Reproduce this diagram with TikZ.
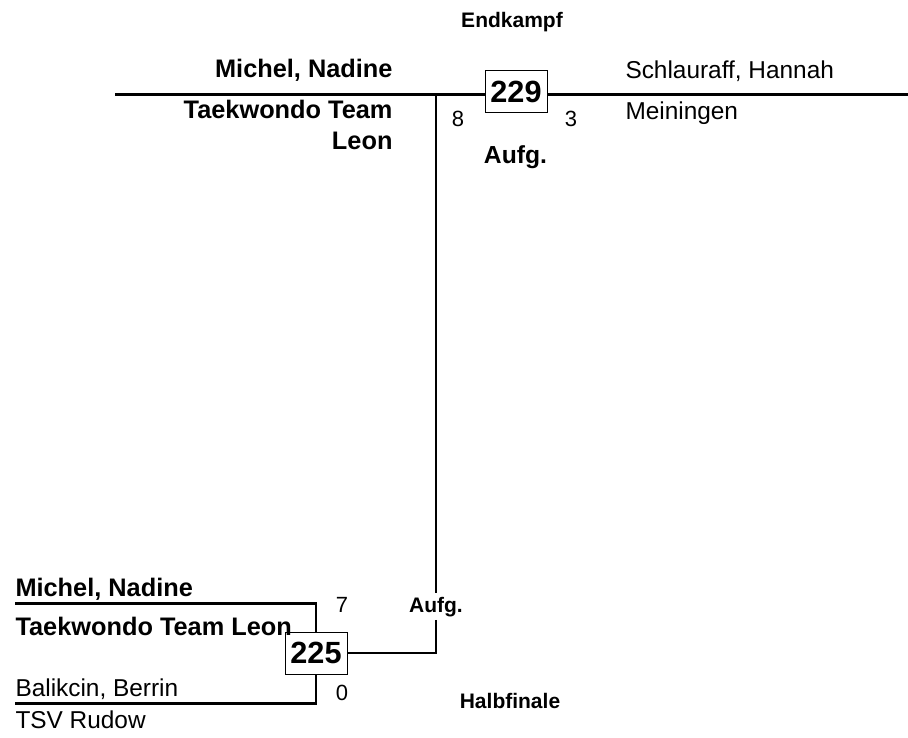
\documentclass[tikz,border=0pt]{standalone}
\usepackage{fontspec}
\setmainfont{Liberation Sans}

\tikzset{every picture/.style={line width=0.75pt}}
\tikzset{
  winner/.style={inner sep=0pt,font=\fontsize{19}{22}\selectfont\bfseries},
  loser/.style={inner sep=0pt,font=\fontsize{18.3}{22}\selectfont},
  score/.style={inner sep=0pt,font=\fontsize{16.5}{19}\selectfont},
  roundlabel/.style={inner sep=0pt,font=\fontsize{15.75}{18}\selectfont\bfseries},
  fightno/.style={draw,line width=0.75pt,fill=white,minimum width=46.5pt,minimum height=31.5pt,inner sep=0pt,font=\fontsize{23}{26}\selectfont\bfseries},
  bracket/.style={line width=2pt}
}

\begin{document}
\begin{tikzpicture}[x=0.75pt,y=0.75pt,yscale=-1,xscale=1]
\useasboundingbox (0,0) rectangle (908,738);

%Fight boxes
\node [fightno] (b229) at (516,92) {229};
\node [fightno] (b225) at (316,653) {225};

%Line ends
\coordinate (lineL) at (115,94.5);
\coordinate (lineR) at (908,94.5);
\coordinate (j229) at (436,94.5);
\coordinate (semiT) at (15,603.5);
\coordinate (semiB) at (15,703.5);

% Text Node
\node [roundlabel,anchor=base] (endk) at (512,28) {Endkampf};
% Text Node
\node [winner,anchor=base east] (mnTop) at (393,78) {Michel, Nadine};
% Text Node
\node [winner,anchor=base east] (ttTop) at (393,119) {Taekwondo Team};
% Text Node
\node [winner,anchor=base east] (leonTop) at (393,150) {Leon};
% Text Node
\node [loser,anchor=base west] (schl) at (625,79) {Schlauraff, Hannah};
% Text Node
\node [loser,anchor=base west] (mein) at (625,120) {Meiningen};
% Text Node
\node [score,anchor=base] (s8) at (458,127) {8};
% Text Node
\node [score,anchor=base] (s3) at (571,127) {3};
% Text Node
\node [winner,font=\fontsize{18.5}{22}\selectfont\bfseries,anchor=base] (aufgT) at (515.5,164) {Aufg.};
% Text Node
\node [winner,anchor=base west] (mnBot) at (15,596) {Michel, Nadine};
% Text Node
\node [winner,anchor=base west] (ttlBot) at (15,635) {Taekwondo Team Leon};
% Text Node
\node [loser,anchor=base west] (balik) at (15,696) {Balikcin, Berrin};
% Text Node
\node [loser,anchor=base west] (tsv) at (15,728) {TSV Rudow};
% Text Node
\node [score,anchor=base] (s7) at (342,612) {7};
% Text Node
\node [score,anchor=base] (s0) at (342,700) {0};
% Text Node
\node [roundlabel,inner sep=2.25pt,anchor=base] (aufgB) at (436,612) {Aufg.};
% Text Node
\node [roundlabel,anchor=base] (halb) at (510,708) {Halbfinale};

%Straight Lines
\draw [bracket] (lineL) -- (lineL -| b229.west);
\draw [bracket] (lineR -| b229.east) -- (lineR);
\draw [bracket] (j229) -- (aufgB.north);
\draw [bracket] (aufgB.south) |- (b225.east);
\draw [bracket] (semiT) -| (b225.north);
\draw [bracket] (semiB) -| (b225.south);

\end{tikzpicture}
\end{document}
